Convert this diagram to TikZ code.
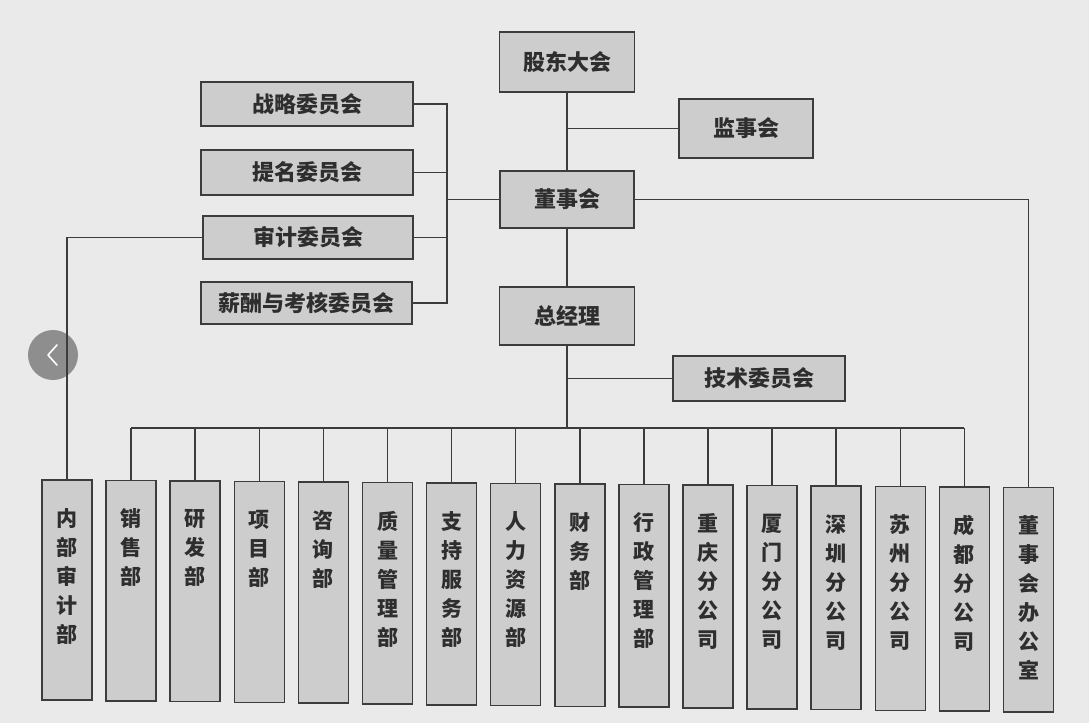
\documentclass[tikz,border=0pt]{standalone}
\usepackage{fontspec}
\newfontfamily\cjk{Noto Sans CJK SC}
\definecolor{bgc}{HTML}{EAEAEA}
\definecolor{boxc}{HTML}{CDCDCD}
\definecolor{linec}{HTML}{3C3C3C}
\definecolor{txtc}{HTML}{2E2E2E}
\definecolor{btnc}{HTML}{8E8E8E}
\tikzset{
  hbox/.style={draw=linec, fill=boxc, line width=1.5pt, inner sep=0pt, text=txtc,
    font=\cjk\bfseries\fontsize{22}{22}\selectfont},
  colbox/.style={draw=linec, fill=boxc, line width=1.5pt, inner sep=0pt, minimum width=50pt},
  coltext/.style={inner sep=0pt, align=center, text=txtc, font=\cjk\bfseries\fontsize{21}{29}\selectfont},
  conn/.style={draw=linec, line width=1.5pt}
}
\begin{document}
\begin{tikzpicture}[x=1pt,y=-1pt]
\fill[bgc] (0,0) rectangle (1089,723);
\useasboundingbox (0,0) rectangle (1089,723);
% page overlay button
\fill[btnc] (53,355) circle (25);
\draw[white, line width=1.6pt, line cap=round, line join=round] (57,345) -- (48,355) -- (57,365);

% top boxes
\node[hbox, minimum width=135pt, minimum height=60pt] (gd) at (567,62) {股东大会};
\node[hbox, minimum width=134pt, minimum height=59pt] (jsh) at (746,128.5) {监事会};
\node[hbox, minimum width=212pt, minimum height=44pt] (zl) at (307,104) {战略委员会};
\node[hbox, minimum width=212pt, minimum height=45pt] (tm) at (307,172.5) {提名委员会};
\node[hbox, minimum width=210pt, minimum height=43pt] (sj) at (308,237.5) {审计委员会};
\node[hbox, minimum width=211pt, minimum height=42pt] (xc) at (306.5,303) {薪酬与考核委员会};
\node[hbox, minimum width=134pt, minimum height=57pt] (dsh) at (567,199.5) {董事会};
\node[hbox, minimum width=135pt, minimum height=58pt] (zjl) at (567,316) {总经理};
\node[hbox, minimum width=172pt, minimum height=45pt] (js) at (759,378.5) {技术委员会};

% bottom columns
\foreach \t [count=\i from 0] in {{内\\部\\审\\计\\部},{销\\售\\部},{研\\发\\部},{项\\目\\部},{咨\\询\\部},
  {质\\量\\管\\理\\部},{支\\持\\服\\务\\部},{人\\力\\资\\源\\部},{财\\务\\部},{行\\政\\管\\理\\部},
  {重\\庆\\分\\公\\司},{厦\\门\\分\\公\\司},{深\\圳\\分\\公\\司},{苏\\州\\分\\公\\司},{成\\都\\分\\公\\司},
  {董\\事\\会\\办\\公\\室}}{
  \pgfmathsetmacro\cx{67+64.1*\i}
  \pgfmathsetmacro\ty{480+0.5*\i}
  \pgfmathsetmacro\by{700+0.8*\i}
  \pgfmathsetmacro\hh{\by-\ty}
  \pgfmathsetmacro\cy{(\ty+\by)/2}
  \node[colbox, minimum height=\hh pt] (d\i) at (\cx,\cy) {};
  \node[coltext, anchor=north] (t\i) at ([yshift=-29pt]d\i.north) {\t};
}

% connectors
\draw[conn] (gd.south) -- (dsh.north);
\coordinate (jj) at (gd.south |- jsh.west);
\draw[conn] (jj) -- (jsh.west);
\coordinate (cb) at (447,199.5);
\draw[conn] (zl.east) -| (cb);
\draw[conn] (xc.east) -| (cb);
\draw[conn] (tm.east) -- (tm.east -| cb);
\draw[conn] (sj.east) -- (sj.east -| cb);
\draw[conn] (cb) -- (dsh.west);
\draw[conn] (dsh.south) -- (zjl.north);
\draw[conn] (sj.west) -| (d0.north);
\draw[conn] (dsh.east) -| (d15.north);
\coordinate (gb) at (567,428);
\draw[conn] (zjl.south) -- (gb);
\coordinate (jt) at (zjl.south |- js.west);
\draw[conn] (jt) -- (js.west);
\draw[conn] (d1.north |- gb) -- (d14.north |- gb);
\foreach \i in {1,...,14}{
  \draw[conn] (d\i.north |- gb) -- (d\i.north);
}
\end{tikzpicture}
\end{document}
